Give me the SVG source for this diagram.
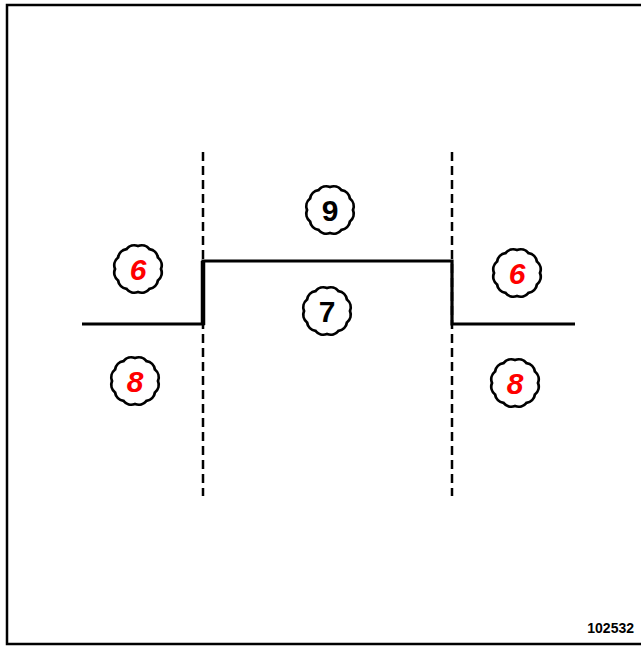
<svg xmlns="http://www.w3.org/2000/svg" width="641" height="646" viewBox="0 0 641 646">
<style>
.frame{fill:#fff;stroke:#000;stroke-width:2.5}
.dash{fill:none;stroke:#000;stroke-width:2.5;stroke-dasharray:9 5}
.step{fill:none;stroke:#000;stroke-width:3.2;stroke-linejoin:miter}
.seal{fill:#fff;stroke:#000;stroke-width:2.8}
.num{font-family:"Liberation Sans",Arial,sans-serif;font-weight:bold;font-size:30px;text-anchor:middle}
.red{fill:#ff0000;font-style:italic}
.blk{fill:#000}
.ref{font-family:"Liberation Sans",Arial,sans-serif;font-weight:bold;font-size:14px;fill:#000;text-anchor:end}
</style>
<defs>
<path id="seal" class="seal" d="M23,0 A10,10 0 0 1 19.92,11.5 A10,10 0 0 1 11.5,19.92 A10,10 0 0 1 0,23 A10,10 0 0 1 -11.5,19.92 A10,10 0 0 1 -19.92,11.5 A10,10 0 0 1 -23,0 A10,10 0 0 1 -19.92,-11.5 A10,10 0 0 1 -11.5,-19.92 A10,10 0 0 1 0,-23 A10,10 0 0 1 11.5,-19.92 A10,10 0 0 1 19.92,-11.5 A10,10 0 0 1 23,0 Z"/>
</defs>
<rect class="frame" x="7" y="5" width="640" height="639"/>
<g id="connectors">
<line class="dash" x1="203" y1="152" x2="203" y2="496"/>
<line class="dash" x1="452" y1="152" x2="452" y2="496"/>
<polyline class="step" points="82,324 203,324 203,261 452,261 452,324 575,324"/>
<line x1="203" y1="261" x2="203" y2="325" stroke="#000" stroke-width="4.5"/>
</g>
<g id="n6l"><use href="#seal" x="138" y="269"/><text class="num red" x="138" y="280">6</text></g>
<g id="n9"><use href="#seal" x="330" y="210"/><text class="num blk" x="330" y="221">9</text></g>
<g id="n7"><use href="#seal" x="327" y="311"/><text class="num blk" x="327" y="322">7</text></g>
<g id="n8l"><use href="#seal" x="135" y="381"/><text class="num red" x="135" y="392">8</text></g>
<g id="n6r"><use href="#seal" x="517" y="273"/><text class="num red" x="517" y="284">6</text></g>
<g id="n8r"><use href="#seal" x="515" y="383"/><text class="num red" x="515" y="394">8</text></g>
<text class="ref" x="634" y="633">102532</text>
</svg>
